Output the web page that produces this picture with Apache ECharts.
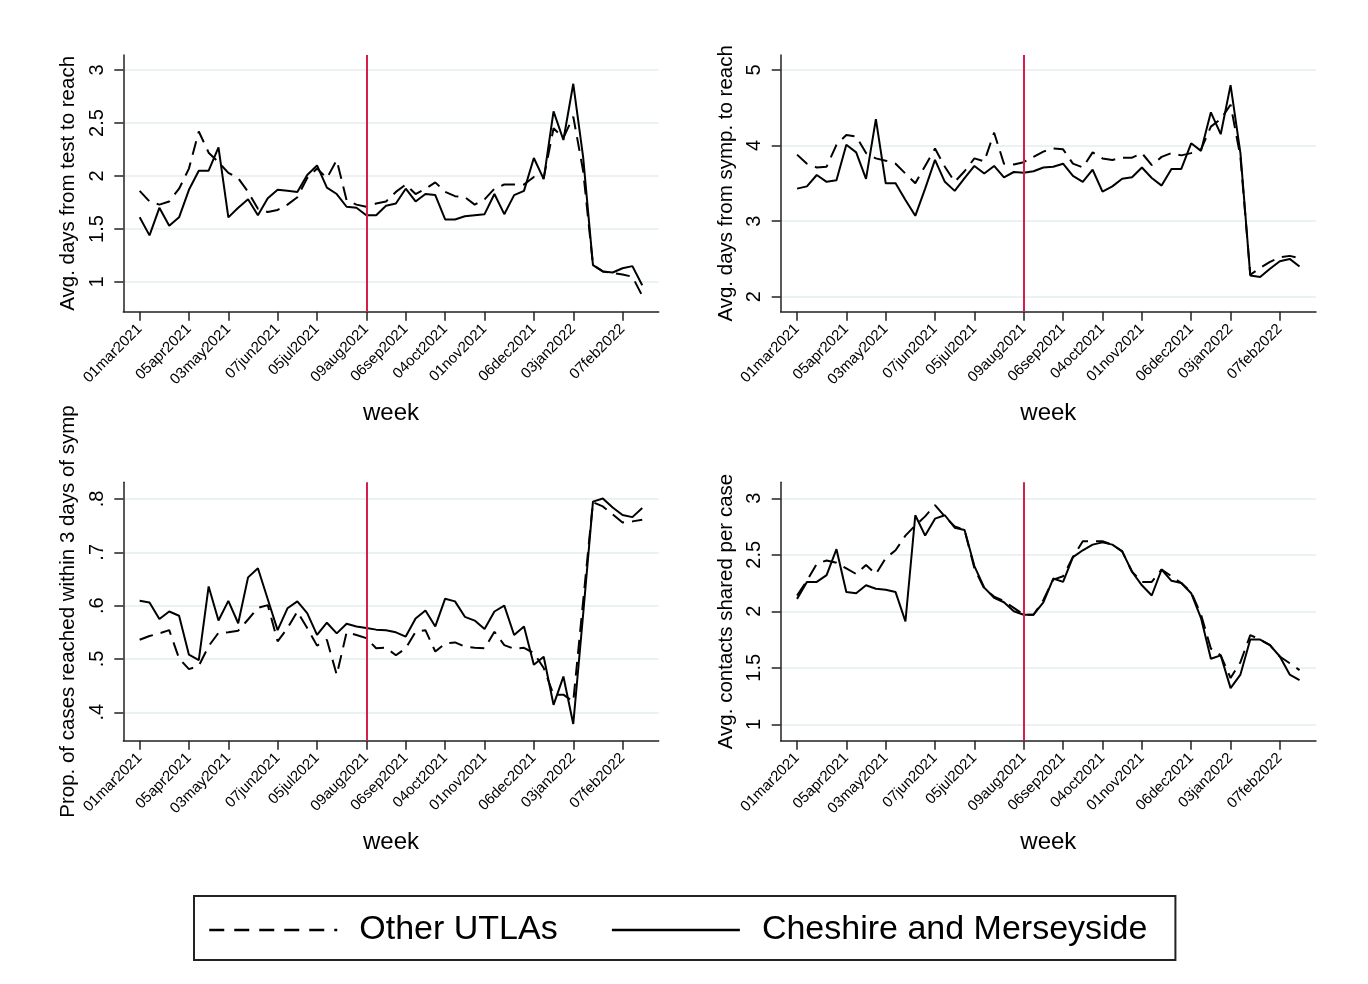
<!DOCTYPE html>
<html>
<head>
<meta charset="utf-8">
<title>Contact tracing indicators by week</title>
<script src="https://cdn.jsdelivr.net/npm/echarts@6/dist/echarts.min.js"></script>
<style>
  html, body { margin: 0; padding: 0; background: #ffffff; }
  #chart { width: 1368px; height: 984px; }
</style>
</head>
<body>
<div id="chart"></div>
<script>
// Weekly series, week 0 = week starting 01mar2021 (52 weeks)
const tickWeeks  = [0, 5, 9, 14, 18, 23, 27, 31, 35, 40, 44, 49];
const tickLabels = ['01mar2021', '05apr2021', '03may2021', '07jun2021', '05jul2021', '09aug2021',
                    '06sep2021', '04oct2021', '01nov2021', '06dec2021', '03jan2022', '07feb2022'];
const policyWeek = 23; // 09aug2021

const seriesNames = ['Other UTLAs', 'Cheshire and Merseyside'];

// Avg. days from test to reach
const testReachOther = [1.86, 1.76, 1.73, 1.76, 1.88, 2.07, 2.42, 2.22, 2.13, 2.03, 1.98, 1.85, 1.69,
  1.66, 1.68, 1.73, 1.80, 1.98, 2.07, 1.98, 2.15, 1.77, 1.73, 1.71, 1.74, 1.76, 1.85,
  1.92, 1.83, 1.88, 1.94, 1.85, 1.81, 1.80, 1.73, 1.78, 1.88, 1.92, 1.92, 1.92, 1.99,
  1.98, 2.45, 2.36, 2.56, 2.05, 1.16, 1.10, 1.085, 1.07, 1.05, 0.87];
const testReachCheshire = [1.61, 1.44, 1.70, 1.53, 1.61, 1.87, 2.05, 2.05, 2.27, 1.61, 1.70, 1.78, 1.63,
  1.79, 1.87, 1.86, 1.85, 2.01, 2.10, 1.89, 1.83, 1.71, 1.70, 1.63, 1.63, 1.72, 1.74,
  1.88, 1.76, 1.83, 1.82, 1.59, 1.59, 1.62, 1.63, 1.64, 1.83, 1.64, 1.82, 1.86, 2.17,
  1.97, 2.61, 2.34, 2.87, 2.18, 1.16, 1.10, 1.09, 1.13, 1.15, 0.97];
const testReachTicks = [1, 1.5, 2, 2.5, 3];

// Avg. days from symptoms to reach
const sympReachOther = [3.88, 3.76, 3.71, 3.72, 4.01, 4.14, 4.12, 3.90, 3.83, 3.80, 3.76, 3.63, 3.50,
  3.73, 3.96, 3.72, 3.52, 3.66, 3.83, 3.79, 4.17, 3.76, 3.75, 3.78, 3.85, 3.92, 3.96,
  3.95, 3.76, 3.71, 3.91, 3.83, 3.81, 3.84, 3.84, 3.90, 3.74, 3.85, 3.90, 3.87, 3.90,
  3.95, 4.25, 4.35, 4.54, 3.85, 2.29, 2.38, 2.46, 2.52, 2.54, 2.51];
const sympReachCheshire = [3.43, 3.46, 3.61, 3.52, 3.54, 4.01, 3.91, 3.56, 4.35, 3.50, 3.50, 3.28, 3.07,
  3.43, 3.81, 3.52, 3.40, 3.57, 3.73, 3.63, 3.73, 3.58, 3.65, 3.64, 3.66, 3.71, 3.72,
  3.76, 3.60, 3.52, 3.68, 3.39, 3.46, 3.56, 3.58, 3.71, 3.57, 3.47, 3.69, 3.69, 4.03,
  3.93, 4.44, 4.15, 4.80, 3.90, 2.28, 2.26, 2.37, 2.47, 2.50, 2.40];
const sympReachTicks = [2, 3, 4, 5];

// Proportion of cases reached within 3 days of symptoms
const within3Other = [0.536, 0.543, 0.548, 0.554, 0.501, 0.481, 0.487, 0.524, 0.549, 0.550, 0.553, 0.574, 0.596,
  0.601, 0.533, 0.558, 0.589, 0.558, 0.525, 0.536, 0.470, 0.550, 0.545, 0.539, 0.520, 0.521, 0.507,
  0.520, 0.551, 0.554, 0.514, 0.529, 0.531, 0.523, 0.521, 0.520, 0.551, 0.526, 0.519, 0.521, 0.511,
  0.483, 0.433, 0.433, 0.420, 0.608, 0.794, 0.786, 0.771, 0.756, 0.758, 0.761];
const within3Cheshire = [0.609, 0.606, 0.575, 0.589, 0.581, 0.508, 0.498, 0.636, 0.572, 0.609, 0.567, 0.653, 0.670,
  0.612, 0.554, 0.595, 0.608, 0.586, 0.545, 0.568, 0.548, 0.566, 0.561, 0.558, 0.555, 0.554, 0.550,
  0.542, 0.576, 0.591, 0.561, 0.613, 0.608, 0.579, 0.572, 0.556, 0.589, 0.600, 0.545, 0.561, 0.489,
  0.504, 0.414, 0.467, 0.378, 0.583, 0.795, 0.801, 0.784, 0.770, 0.766, 0.783];
const within3Ticks = [0.4, 0.5, 0.6, 0.7, 0.8];

// Avg. contacts shared per case
const contactsOther = [2.14, 2.27, 2.42, 2.45, 2.43, 2.38, 2.33, 2.41, 2.33, 2.47, 2.54, 2.67, 2.76,
  2.84, 2.94, 2.84, 2.75, 2.72, 2.38, 2.20, 2.13, 2.09, 2.03, 1.97, 1.97, 2.10, 2.28,
  2.31, 2.48, 2.62, 2.62, 2.62, 2.59, 2.53, 2.35, 2.26, 2.26, 2.37, 2.31, 2.25, 2.17,
  1.97, 1.67, 1.61, 1.41, 1.55, 1.79, 1.75, 1.70, 1.60, 1.54, 1.48];
const contactsCheshire = [2.11, 2.26, 2.26, 2.32, 2.55, 2.17, 2.16, 2.23, 2.20, 2.19, 2.17, 1.91, 2.85,
  2.67, 2.82, 2.85, 2.74, 2.72, 2.40, 2.21, 2.12, 2.08, 2.00, 1.97, 1.97, 2.08, 2.29,
  2.26, 2.48, 2.54, 2.59, 2.61, 2.59, 2.53, 2.35, 2.23, 2.14, 2.37, 2.27, 2.25, 2.16,
  1.94, 1.58, 1.61, 1.32, 1.44, 1.75, 1.75, 1.70, 1.60, 1.44, 1.39];
const contactsTicks = [1, 1.5, 2, 2.5, 3];

const FONT = "'Liberation Sans', Arial, Helvetica, sans-serif";

const panels = [
  { title: 'Avg. days from test to reach', other: testReachOther, cheshire: testReachCheshire,
    ticks: testReachTicks, yMin: 0.72, yMax: 3.1415,
    grid: { left: 123.3, top: 55, width: 535.4, height: 256.7 } },
  { title: 'Avg. days from symp. to reach', other: sympReachOther, cheshire: sympReachCheshire,
    ticks: sympReachTicks, yMin: 1.8015, yMax: 5.198,
    grid: { left: 780.7, top: 55, width: 535.3, height: 256.7 } },
  { title: 'Prop. of cases reached within 3 days of symp', other: within3Other, cheshire: within3Cheshire,
    ticks: within3Ticks, yMin: 0.3467, yMax: 0.8313,
    grid: { left: 123.3, top: 482.3, width: 535.4, height: 258.4 } },
  { title: 'Avg. contacts shared per case', other: contactsOther, cheshire: contactsCheshire,
    ticks: contactsTicks, yMin: 0.855, yMax: 3.1416,
    grid: { left: 780.7, top: 482.3, width: 535.3, height: 258.4 } }
];

const axisColor = '#222222';
const gridColor = '#e4eef1';

function yLabel(v) {
  const s = String(Math.round(v * 100) / 100);
  return s.replace(/^0\./, '.');
}

const grids = [], xAxes = [], yAxes = [], series = [];

panels.forEach((p, i) => {
  grids.push(Object.assign({ containLabel: false }, p.grid));

  xAxes.push({
    type: 'value', gridIndex: i, min: -1.66, max: 52.67,
    axisLine: { show: true, onZero: false, lineStyle: { color: axisColor, width: 1.5 } },
    axisTick: { show: true, length: 9, customValues: tickWeeks, lineStyle: { color: axisColor, width: 1.5 } },
    axisLabel: {
      customValues: tickWeeks, rotate: 45, margin: 15, fontSize: 15, color: '#000', fontFamily: FONT,
      formatter: v => tickLabels[tickWeeks.indexOf(v)]
    },
    splitLine: { show: false },
    name: 'week', nameLocation: 'middle', nameGap: 90,
    nameTextStyle: { fontSize: 24, color: '#000', fontFamily: FONT }
  });

  yAxes.push({
    type: 'value', gridIndex: i, min: p.yMin, max: p.yMax,
    axisLine: { show: true, onZero: false, lineStyle: { color: axisColor, width: 1.5 } },
    axisTick: { show: true, length: 9, customValues: p.ticks, lineStyle: { color: axisColor, width: 1.5 } },
    axisLabel: {
      customValues: p.ticks, rotate: 90, margin: 16, fontSize: 20, color: '#000', fontFamily: FONT,
      formatter: yLabel
    },
    splitLine: { show: true, lineStyle: { color: gridColor, width: 1.5 } },
    name: p.title, nameLocation: 'middle', nameGap: 44,
    nameTextStyle: { fontSize: 20.5, color: '#000', fontFamily: FONT }
  });

  series.push({
    type: 'line', name: seriesNames[0], xAxisIndex: i, yAxisIndex: i,
    data: p.other.map((v, k) => [k, v]),
    symbol: 'none', color: '#000',
    lineStyle: { color: '#000', width: 2, type: [14, 8] },
    z: 2
  });
  series.push({
    type: 'line', name: seriesNames[1], xAxisIndex: i, yAxisIndex: i,
    data: p.cheshire.map((v, k) => [k, v]),
    symbol: 'none', color: '#000',
    lineStyle: { color: '#000', width: 2, type: 'solid' },
    z: 3,
    markLine: {
      silent: true, symbol: ['none', 'none'], animation: false,
      label: { show: false },
      lineStyle: { color: '#d41f4d', width: 2, type: 'solid' },
      data: [{ xAxis: policyWeek }]
    }
  });
});

const chart = echarts.init(document.getElementById('chart'), null, { renderer: 'canvas' });
chart.setOption({
  backgroundColor: '#ffffff',
  animation: false,
  grid: grids,
  xAxis: xAxes,
  yAxis: yAxes,
  series: series,
  legend: {
    left: 194, top: 896, orient: 'horizontal',
    itemWidth: 128, itemHeight: 14, itemGap: 53,
    padding: [17, 28, 13, 14],
    borderColor: '#222', borderWidth: 2,
    itemStyle: { opacity: 0, borderWidth: 0 },
    textStyle: { fontSize: 34, color: '#000', fontFamily: FONT, padding: [0, 0, 0, 17] },
    data: [
      { name: seriesNames[0], lineStyle: { width: 2.5, type: [15, 10] } },
      { name: seriesNames[1], lineStyle: { width: 2.5 } }
    ]
  }
});
</script>
</body>
</html>
